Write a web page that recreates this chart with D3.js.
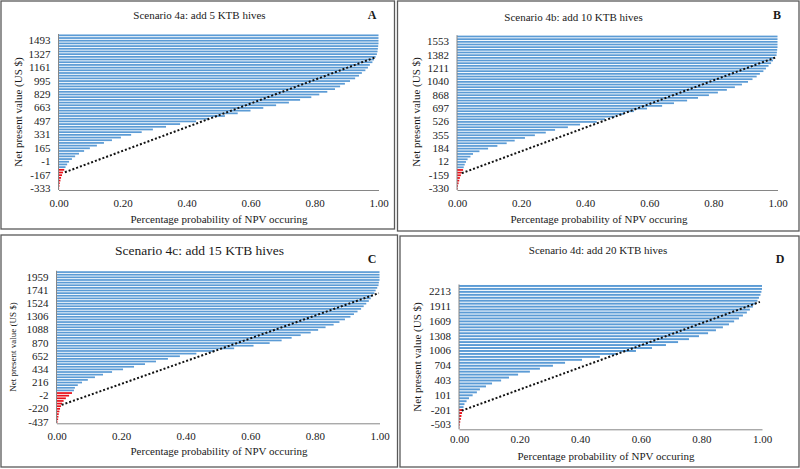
<!DOCTYPE html>
<html><head><meta charset="utf-8">
<script src="https://cdn.jsdelivr.net/npm/d3@7"></script>
<style>html,body{margin:0;padding:0;background:#fff;}svg{display:block;font-family:"Liberation Serif","Times New Roman",serif;}</style>
</head><body>
<svg id="c" width="800" height="469"></svg>
<script>
// ---------- DATA ----------
const titles = ["Scenario  4a:  add 5 KTB hives", "Scenario  4b:  add 10 KTB hives", "Scenario 4c: add 15 KTB hives", "Scenario  4d:  add 20 KTB hives"];
const panelLetters = ["A", "B", "C", "D"];
const xTickValues = [0, 0.2, 0.4, 0.6, 0.8, 1.0];
const xTitle = "Percentage probability  of NPV occuring";
const yTitles = ["Net present value  (US $)", "Net present value  (US $)", "Net present value (US $)", "Net present value  (US $)"];

// NPV tick labels (bottom to top)
const ticksA = ["-333", "-167", "-1", "165", "331", "497", "663", "829", "995", "1161", "1327", "1493"];
const ticksB = ["-330", "-159", "12", "184", "355", "526", "697", "868", "1040", "1211", "1382", "1553"];
const ticksC = ["-437", "-220", "-2", "216", "434", "652", "870", "1088", "1306", "1524", "1741", "1959"];
const ticksD = ["-503", "-201", "101", "403", "704", "1006", "1308", "1609", "1911", "2213"];
const labelEvery = 5;
const labelStart = [0, 0, 0, 1];

// cumulative probability per NPV class, bottom to top; loss classes (red) then the rest (blue)
const lossA = [0.002, 0.003, 0.004, 0.006, 0.008, 0.011, 0.014, 0.018];
const gainA = [0.022, 0.027, 0.033, 0.042, 0.052, 0.064, 0.08, 0.098, 0.12, 0.142, 0.167, 0.195, 0.227, 0.26, 0.295, 0.336, 0.38, 0.43, 0.47, 0.52, 0.56, 0.60, 0.64, 0.68, 0.72, 0.755, 0.79, 0.815, 0.84, 0.864, 0.88, 0.895, 0.911, 0.927, 0.939, 0.948, 0.959, 0.967, 0.973, 0.981, 0.986, 0.991, 0.995, 0.997, 0.998, 0.999, 1, 1, 1, 1];
const lossB = [0.002, 0.003, 0.005, 0.007, 0.009, 0.012, 0.015, 0.019];
const gainB = [0.021, 0.024, 0.028, 0.033, 0.042, 0.05, 0.07, 0.097, 0.126, 0.155, 0.18, 0.212, 0.243, 0.277, 0.306, 0.346, 0.384, 0.436, 0.462, 0.493, 0.521, 0.552, 0.593, 0.64, 0.677, 0.718, 0.752, 0.786, 0.814, 0.842, 0.867, 0.889, 0.908, 0.922, 0.935, 0.945, 0.956, 0.964, 0.972, 0.98, 0.986, 0.992, 0.997, 0.998, 0.999, 1, 1, 1, 1, 1];
const lossC = [0.003, 0.005, 0.006, 0.007, 0.009, 0.011, 0.014, 0.017, 0.022, 0.029, 0.039, 0.048];
const gainC = [0.054, 0.057, 0.066, 0.079, 0.097, 0.119, 0.144, 0.172, 0.206, 0.24, 0.274, 0.308, 0.345, 0.382, 0.433, 0.49, 0.55, 0.61, 0.66, 0.697, 0.728, 0.756, 0.787, 0.81, 0.833, 0.858, 0.876, 0.893, 0.91, 0.921, 0.932, 0.943, 0.951, 0.959, 0.967, 0.973, 0.978, 0.984, 0.988, 0.993, 0.997, 0.998, 1, 1, 1, 1];
const lossD = [0.001, 0.002, 0.004, 0.006, 0.008, 0.01, 0.013];
const gainD = [0.015, 0.018, 0.025, 0.033, 0.045, 0.059, 0.069, 0.089, 0.109, 0.139, 0.165, 0.195, 0.234, 0.267, 0.31, 0.35, 0.406, 0.465, 0.525, 0.584, 0.637, 0.683, 0.723, 0.759, 0.792, 0.822, 0.848, 0.871, 0.891, 0.908, 0.924, 0.937, 0.95, 0.96, 0.97, 0.979, 0.985, 0.99, 0.995, 0.998, 1, 1];

// dotted straight line: [probability, class index]
const trendA = [[0.02, 6.1], [0.992, 48.9]];
const trendB = [[0.015, 5.8], [0.995, 49.2]];
const trendC = [[0.016, 6.5], [0.998, 49.0]];
const trendD = [[0.009, 5.8], [0.993, 42.6]];

// ---------- LAYOUT ----------
const panels = [
  {ticks: ticksA, loss: lossA, gain: gainA, trend: trendA,
   box: [1, 1, 394.5, 229], left: 58.5, right: 378.5, bottom: 190, pitch: 2.69,
   title: [199.5, 14.5, 11], letter: [372, 14.5], xt: [219, 219], yt: [17.5, 112, 11], xtick: 203},
  {ticks: ticksB, loss: lossB, gain: gainB, trend: trendB,
   box: [397.5, 1, 799, 231], left: 457, right: 777.5, bottom: 190, pitch: 2.67,
   title: [573.5, 16.7, 11], letter: [777, 14.5], xt: [599, 219], yt: [415.5, 112, 11], xtick: 202.5},
  {ticks: ticksC, loss: lossC, gain: gainC, trend: trendC,
   box: [1, 235, 397.5, 467], left: 56.5, right: 379.5, bottom: 423.3, pitch: 2.63,
   title: [199.5, 250, 13.5], letter: [372, 258.7], xt: [219, 451], yt: [12.5, 347, 9], xtick: 436.5},
  {ticks: ticksD, loss: lossD, gain: gainD, trend: trendD,
   box: [400, 236, 799, 467], left: 459, right: 762, bottom: 429.3, pitch: 2.956,
   title: [598, 250.3, 11], letter: [780, 258.5], xt: [606, 456], yt: [416.7, 357, 11], xtick: 439.5}
];

const svg = d3.select("#c");
const BLUE = "#5B9BD5", RED = "#E8101A", AXIS = "#868686", TEXT = "#1a1a1a";

panels.forEach((p, pi) => {
  const g = svg.append("g");
  // border
  g.append("rect").attr("x", p.box[0]).attr("y", p.box[1])
    .attr("width", p.box[2] - p.box[0]).attr("height", p.box[3] - p.box[1])
    .attr("fill", "none").attr("stroke", "#595959").attr("stroke-width", 1.3);

  const values = p.loss.concat(p.gain);
  const n = values.length;
  const idx = d3.range(n);
  const top = p.bottom - n * p.pitch;
  const y = d3.scaleBand().domain(idx).range([p.bottom, top]).paddingInner(0.35).paddingOuter(0.18);
  const x = d3.scaleLinear().domain([0, 1]).range([p.left, p.right]);
  const yc = d3.scaleLinear().domain([0, n - 1]).range([y(0) + y.bandwidth() / 2, y(n - 1) + y.bandwidth() / 2]);

  // bars
  g.append("g").selectAll("rect").data(values).join("rect")
    .attr("x", x(0))
    .attr("y", (d, i) => y(i))
    .attr("height", y.bandwidth())
    .attr("width", d => x(d) - x(0))
    .attr("fill", (d, i) => i < p.loss.length ? RED : BLUE);

  // dotted line
  g.append("path").datum(p.trend)
    .attr("d", d3.line().x(d => x(d[0])).y(d => yc(d[1])))
    .attr("fill", "none").attr("stroke", "#111").attr("stroke-width", 2)
    .attr("stroke-dasharray", "2 2");

  // y axis
  const tickIdx = p.ticks.map((t, k) => labelStart[pi] + k * labelEvery);
  const ya = d3.axisLeft(y).tickValues(tickIdx).tickSize(0).tickPadding(8)
    .tickFormat(d => p.ticks[(d - labelStart[pi]) / labelEvery]);
  const yg = g.append("g").attr("transform", `translate(${x(0)},0)`).call(ya);
  yg.select(".domain").attr("stroke", AXIS).attr("d", `M0,${p.bottom}V${top}`);
  yg.selectAll("text").attr("font-size", 11).attr("fill", TEXT).attr("font-family", "Liberation Serif");

  // x axis
  const xa = d3.axisBottom(x).tickValues(xTickValues).tickSize(0).tickPadding(0).tickFormat(d3.format(".2f"));
  const xg = g.append("g").attr("transform", `translate(0,${p.bottom})`).call(xa);
  xg.select(".domain").attr("stroke", AXIS);
  xg.selectAll("text").attr("font-size", 11).attr("fill", TEXT).attr("font-family", "Liberation Serif")
    .attr("dy", null).attr("y", p.xtick - p.bottom).attr("dominant-baseline", "central");

  // texts
  g.append("text").attr("x", p.title[0]).attr("y", p.title[1]).attr("text-anchor", "middle")
    .attr("dominant-baseline", "central").attr("font-size", p.title[2]).attr("fill", TEXT)
    .text(titles[pi]);
  g.append("text").attr("x", p.letter[0]).attr("y", p.letter[1]).attr("text-anchor", "middle")
    .attr("dominant-baseline", "central").attr("font-size", 12).attr("font-weight", "bold").attr("fill", TEXT)
    .text(panelLetters[pi]);
  g.append("text").attr("x", p.xt[0]).attr("y", p.xt[1]).attr("text-anchor", "middle")
    .attr("dominant-baseline", "central").attr("font-size", 11).attr("fill", TEXT)
    .text(xTitle);
  g.append("text").attr("transform", `translate(${p.yt[0]},${p.yt[1]}) rotate(-90)`)
    .attr("text-anchor", "middle").attr("dominant-baseline", "central")
    .attr("font-size", p.yt[2]).attr("fill", TEXT).text(yTitles[pi]);
});
</script>
</body></html>
